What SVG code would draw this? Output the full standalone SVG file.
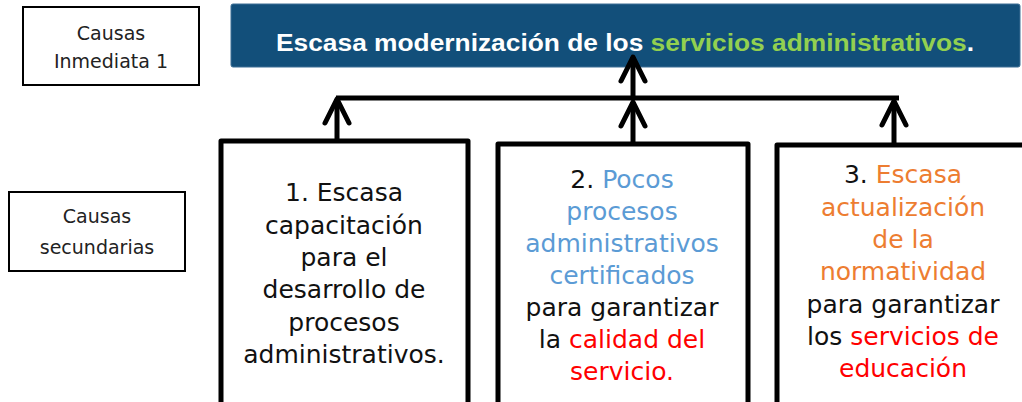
<svg xmlns="http://www.w3.org/2000/svg" width="1022" height="402" viewBox="0 0 1022 402">
<style>
.lbl{fill:#fff;stroke:#000;stroke-width:2}
.lt{font-family:"DejaVu Sans",sans-serif;font-size:19px;fill:#222;text-anchor:middle}
.box{fill:#fff;stroke:#000;stroke-width:5;stroke-linejoin:round}
.bt{font-family:"DejaVu Sans",sans-serif;font-size:25px;fill:#111;text-anchor:middle}
.title{font-family:"Liberation Sans",Arial,sans-serif;font-size:23px;font-weight:bold;fill:#fff}
.g{fill:#92D050}.b{fill:#5B9BD5}.o{fill:#ED7D31}.r{fill:#FF0000}
.con{fill:none;stroke:#000;stroke-width:5}
</style>
<defs>
<marker id="chev" markerUnits="userSpaceOnUse" viewBox="-30 -16 34 32" refX="0" refY="0" markerWidth="34" markerHeight="32" orient="auto" overflow="visible">
<path d="M -24 -12 L 0 0 L -24 12" fill="none" stroke="#000" stroke-width="5" stroke-linejoin="round" stroke-linecap="round"/>
</marker>
</defs>
<g id="lbl-inmediata">
<rect class="lbl" x="23" y="7" width="176" height="78"/>
<text class="lt" x="111" y="40">Causas</text>
<text class="lt" x="111" y="68">Inmediata 1</text>
</g>
<g id="lbl-secundarias">
<rect class="lbl" x="9" y="192" width="176" height="79"/>
<text class="lt" x="97" y="223">Causas</text>
<text class="lt" x="97" y="254">secundarias</text>
</g>
<g id="title">
<rect x="231" y="4" width="789" height="63" rx="2" fill="#124f7a" stroke="#3d6f95" stroke-width="1"/>
<text class="title" x="276" y="51" textLength="698" lengthAdjust="spacingAndGlyphs">Escasa modernización de los <tspan class="g">servicios administrativos</tspan>.</text>
</g>
<g id="cause1">
<rect class="box" x="221" y="141" width="247" height="280"/>
<text class="bt" x="344" y="201">1. Escasa</text>
<text class="bt" x="344" y="234">capacitación</text>
<text class="bt" x="344" y="266">para el</text>
<text class="bt" x="344" y="298">desarrollo de</text>
<text class="bt" x="344" y="331">procesos</text>
<text class="bt" x="344" y="363">administrativos.</text>
</g>
<g id="cause2">
<rect class="box" x="498" y="144" width="250" height="280"/>
<text class="bt" x="622" y="188">2. <tspan class="b">Pocos</tspan></text>
<text class="bt b" x="622" y="220">procesos</text>
<text class="bt b" x="622" y="252">administrativos</text>
<text class="bt b" x="622" y="284">certificados</text>
<text class="bt" x="622" y="316">para garantizar</text>
<text class="bt" x="622" y="348">la <tspan class="r">calidad del</tspan></text>
<text class="bt r" x="622" y="380">servicio.</text>
</g>
<g id="cause3">
<rect class="box" x="777" y="145" width="270" height="280"/>
<text class="bt" x="903" y="183">3. <tspan class="o">Escasa</tspan></text>
<text class="bt o" x="903" y="216">actualización</text>
<text class="bt o" x="903" y="248">de la</text>
<text class="bt o" x="903" y="280">normatividad</text>
<text class="bt" x="903" y="313">para garantizar</text>
<text class="bt" x="903" y="345">los <tspan class="r">servicios de</tspan></text>
<text class="bt r" x="903" y="377">educación</text>
</g>
<g id="connectors">
<path class="con" d="M 336 98 L 899 98"/>
<path class="con" d="M 633 98 L 633 57" marker-end="url(#chev)"/>
<path class="con" d="M 337 141 L 337 99" marker-end="url(#chev)"/>
<path class="con" d="M 633 144 L 633 102" marker-end="url(#chev)"/>
<path class="con" d="M 894 145 L 894 101" marker-end="url(#chev)"/>
</g>
</svg>
